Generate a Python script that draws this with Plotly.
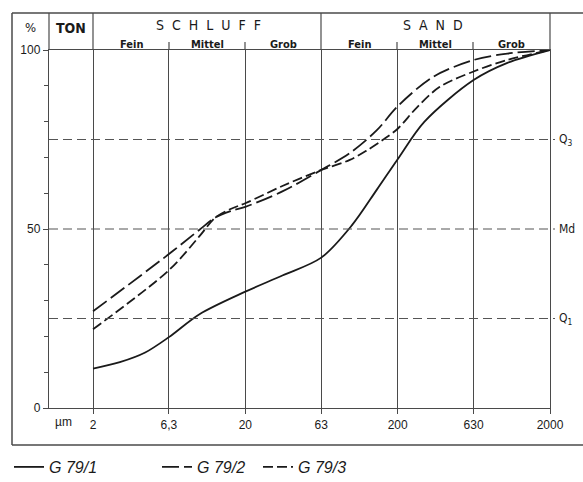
import plotly.graph_objects as go

# ---------------- data ----------------
tick_um = [2, 6.3, 20, 63, 200, 630, 2000]
tick_text = ["2", "6,3", "20", "63", "200", "630", "2000"]

g1_um = [2, 3.0, 4.4, 6.3, 10, 20, 35, 63, 100, 146, 200, 300, 630, 1050, 2000]
g1_pct = [11, 12.8, 15.5, 19.8, 26.2, 32.5, 37, 42, 51, 61, 69.5, 80, 91.6, 96.4, 100]

g2_um = [2, 6.3, 10, 12.7, 16, 20, 35, 63, 97, 146, 200, 342, 630, 1050, 2000]
g2_pct = [27, 43, 49.8, 53.2, 55, 56.2, 60.5, 66.5, 71.2, 77.6, 84.3, 92.5, 97.2, 99, 100]

g3_um = [2, 6.3, 10, 12.7, 16, 20, 35, 63, 97, 126, 160, 200, 268, 378, 630, 1050, 2000]
g3_pct = [22, 38.5, 48, 53.2, 55.6, 57.2, 62, 66.5, 69.3, 72, 74.9, 78, 84, 89.7, 94, 97.2, 100]

quart_vals = [25, 50, 75]
quart_labels = ["Q<sub>1</sub>", "Md", "Q<sub>3</sub>"]
names = ["G 79/1", "G 79/2", "G 79/3"]

# ---------------- layout helpers (pixel -> paper) ----------------
L, R, T, B = 49, 550, 50, 408
W, H = 583, 482
def px(X):
    return (X - L) / (R - L)
def py(Y):
    return (B - Y) / (B - T)

INK = "#1a1a1a"
LINE = "#4a4a4a"
HEAD_FONT = "Liberation Sans Narrow, DejaVu Sans Condensed, Arial Narrow, sans-serif"
BODY_FONT = "Liberation Sans, Arial, sans-serif"

fig = go.Figure()
fig.add_trace(go.Scatter(x=g1_um, y=g1_pct, mode="lines", name=names[0], legend="legend",
                         line=dict(color=INK, width=1.8, shape="spline", smoothing=0.9)))
fig.add_trace(go.Scatter(x=g2_um, y=g2_pct, mode="lines", name=names[1], legend="legend2",
                         line=dict(color=INK, width=1.8, shape="spline", smoothing=0.9, dash="17px,5px")))
fig.add_trace(go.Scatter(x=g3_um, y=g3_pct, mode="lines", name=names[2], legend="legend3",
                         line=dict(color=INK, width=1.8, shape="spline", smoothing=0.9, dash="10px,4px")))

shapes = []
# outer frame (right side lies outside the picture)
for (x0, y0, x1, y1) in [(12, 13, 640, 13), (12, 445, 640, 445), (12, 13, 12, 445)]:
    shapes.append(dict(type="line", xref="paper", yref="paper", x0=px(x0), x1=px(x1),
                       y0=py(y0), y1=py(y1), line=dict(color=LINE, width=1.5)))
# header verticals
for X in [49, 93, 321, 550]:
    shapes.append(dict(type="line", xref="paper", yref="paper", x0=px(X), x1=px(X),
                       y0=1, y1=py(13), line=dict(color=LINE, width=1.2)))
# sub-class ticks in header
for X in [169, 245, 397, 473]:
    shapes.append(dict(type="line", xref="paper", yref="paper", x0=px(X), x1=px(X),
                       y0=1, y1=py(42), line=dict(color=LINE, width=1.2)))
# quartile dashed lines
for q in quart_vals:
    shapes.append(dict(type="line", xref="paper", yref="y", x0=0, x1=px(555), y0=q, y1=q,
                       line=dict(color="#555555", width=1.1, dash="9px,5px")))

ann = []
def txt(X, Y, s, size=12, bold=False, anchor="center", family=HEAD_FONT):
    ann.append(dict(x=px(X), y=py(Y), xref="paper", yref="paper", text=(f"<b>{s}</b>" if bold else s),
                    showarrow=False, xanchor=anchor, yanchor="middle",
                    font=dict(family=family, size=size, color=INK)))

sp = "&nbsp;&nbsp;"
txt(30, 28, "%", 13)
txt(71, 28, "TON", 14, bold=True)
txt(208, 25, sp.join("SCHLUFF"), 14)
txt(433, 25, sp.join("SAND"), 14)
for X, s in [(131, "Fein"), (207, "Mittel"), (283, "Grob"), (359, "Fein"), (435, "Mittel"), (511, "Grob")]:
    txt(X, 44, s, 11, bold=True)
txt(63, 422, "µm", 12, family=BODY_FONT)
for q, lab in zip(quart_vals, quart_labels):
    ann.append(dict(x=px(557), y=q, xref="paper", yref="y", text=lab, showarrow=False,
                    xanchor="left", yanchor="middle", font=dict(family=HEAD_FONT, size=12, color=INK)))

leg_font = dict(family=BODY_FONT, size=16, style="italic", color=INK)
def leg(X):
    return dict(orientation="h", x=px(X), xanchor="left", y=py(467), yanchor="middle",
                font=leg_font, bgcolor="rgba(0,0,0,0)", borderwidth=0)

fig.update_layout(
    width=W, height=H, margin=dict(l=L, r=W - R, t=T, b=H - B, autoexpand=False),
    plot_bgcolor="white", paper_bgcolor="white",
    shapes=shapes, annotations=ann,
    showlegend=True,
    legend=leg(9), legend2=leg(157), legend3=leg(258),
    xaxis=dict(type="log", range=[0.012, 3.301], tickvals=tick_um, ticktext=tick_text,
               showgrid=True, gridcolor=LINE, gridwidth=1.2, zeroline=False,
               showline=True, linecolor=LINE, linewidth=1.4, mirror=True,
               ticks="outside", ticklen=5, tickcolor=LINE,
               tickfont=dict(family=BODY_FONT, size=12, color=INK)),
    yaxis=dict(range=[0, 100], tickvals=[0, 50, 100], ticktext=["0", "50", "100"],
               showgrid=False, zeroline=False, showline=True, linecolor=LINE, linewidth=1.4, mirror=True,
               ticks="outside", ticklen=5, tickcolor=LINE,
               minor=dict(tickvals=list(range(10, 100, 10)), ticks="outside", ticklen=4, tickcolor=LINE, showgrid=False),
               tickfont=dict(family=BODY_FONT, size=12, color=INK)),
)

fig.write_html("out.html")
